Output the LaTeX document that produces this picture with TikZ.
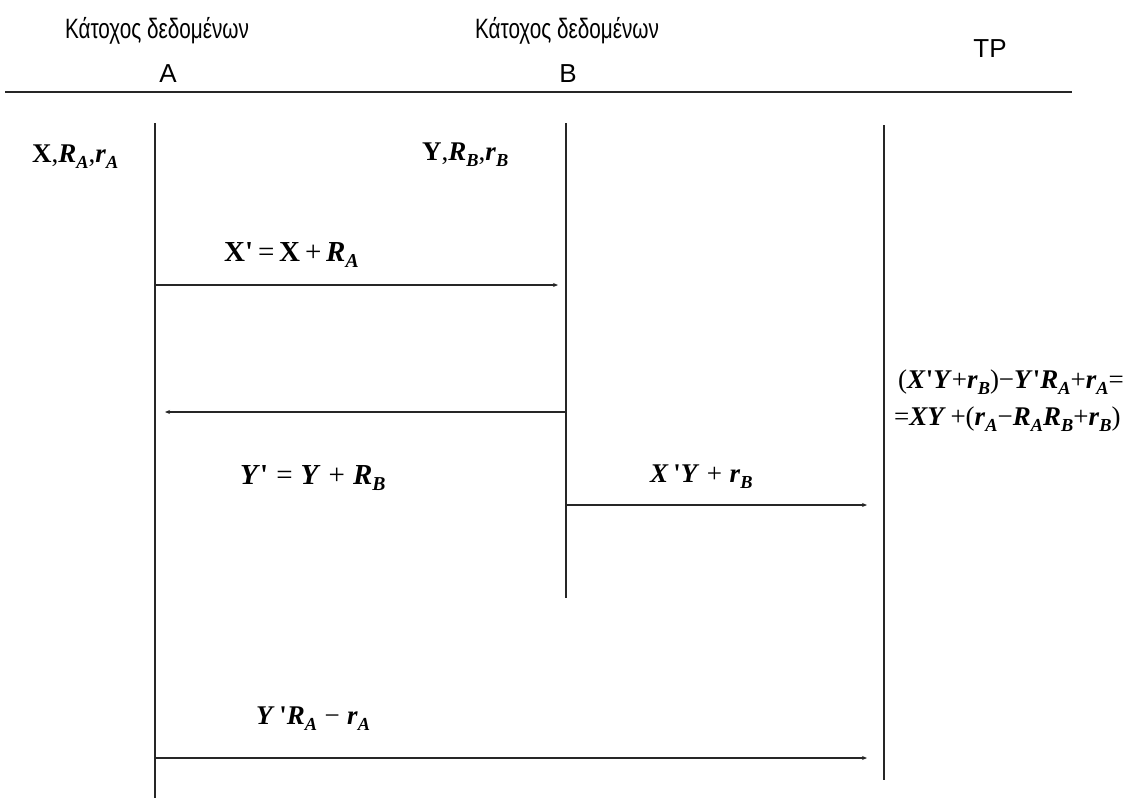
\documentclass[tikz,border=0pt]{standalone}
\usepackage{fontspec}
\usepackage{graphicx}
\setmainfont{Liberation Serif}
\newfontfamily\hdrfont[FakeStretch=0.74]{Liberation Sans}
\newfontfamily\hdrplain{Liberation Sans}
\newfontfamily\frmfont{Liberation Serif}
\usetikzlibrary{arrows.meta}
\newcommand{\bi}[1]{\textbf{\textit{#1}}}
\newcommand{\bu}[1]{\textbf{#1}}
\newcommand{\sbs}[1]{\raisebox{-0.5ex}{\scalebox{0.68}{\bi{#1}}}}
\newcommand{\mns}{\;\textminus\;}
\tikzset{
  hdr/.style={font=\hdrfont\fontsize{28}{30}\selectfont, inner sep=0pt, anchor=base},
  hdrl/.style={font=\hdrplain\fontsize{26}{28}\selectfont, inner sep=0pt, anchor=base},
  lbl/.style={font=\frmfont\fontsize{27}{29}\selectfont, inner sep=0pt, anchor=base west},
  lblb/.style={lbl, font=\frmfont\fontsize{29}{31}\selectfont},
  life/.style={line width=1.1pt, draw=black!85},
  msg/.style={line width=1.2pt, draw=black!85, -{Stealth[length=5pt,width=4pt]}},
}
\begin{document}
\begin{tikzpicture}[x=1pt,y=-1pt]
\useasboundingbox (0,0) rectangle (1140,798);
% headers
\node[hdr] (hA1) at (157,38) {Κάτοχος δεδομένων};
\node[hdrl] (hA2) at (168,82) {A};
\node[hdr] (hB1) at (567,38) {Κάτοχος δεδομένων};
\node[hdrl] (hB2) at (568,82) {B};
\node[hdrl] (hTP) at (990,57) {TP};
\coordinate (ruleL) at (5,92);
\coordinate (ruleR) at (1072,92);
\draw[line width=1.3pt, draw=black!85] (ruleL) -- (ruleR);
% lifelines
\coordinate (At) at (155,123); \coordinate (Ab) at (155,798);
\coordinate (Bt) at (566,123); \coordinate (Bb) at (566,598);
\coordinate (Tt) at (884,125); \coordinate (Tb) at (884,780);
\draw[life] (At) -- (Ab);
\draw[life] (Bt) -- (Bb);
\draw[life] (Tt) -- (Tb);
% labels
\node[lbl] (lA) at (32,162) {\bu{X},\bi{R}\sbs{A},\bi{r}\sbs{A}};
\node[lbl] (lB) at (422,160) {\bu{Y},\bi{R}\sbs{B},\bi{r}\sbs{B}};
\node[lblb] (m1) at (224,261) {\bu{X}\bu{'}\,=\,\bu{X}\,+\,\bi{R}\sbs{A}};
\node[lblb] (m2) at (240,484) {\bi{Y}\bu{'}\;=\;\bi{Y}\;+\;\bi{R}\sbs{B}};
\node[lbl] (m3) at (650,482) {\bi{X}\,\bu{'}\bi{Y}\;+\;\bi{r}\sbs{B}};
\node[lbl] (m4) at (256,724) {\bi{Y}\,\bu{'}\bi{R}\sbs{A}\mns\bi{r}\sbs{A}};
\node[lbl] (f1) at (898,388) {(\bi{X}\bu{'}\bi{Y}+\bi{r}\sbs{B})\textminus\bi{Y}\bu{'}\bi{R}\sbs{A}+\bi{r}\sbs{A}=};
\node[lbl] (f2) at (894,425) {=\bi{XY}\,+(\bi{r}\sbs{A}\textminus\bi{R}\sbs{A}\bi{R}\sbs{B}+\bi{r}\sbs{B})};
% messages
\coordinate (a1s) at (155,285); \coordinate (a1e) at (558,285);
\coordinate (a2s) at (566,412); \coordinate (a2e) at (165,412);
\coordinate (a3s) at (566,505); \coordinate (a3e) at (867,505);
\coordinate (a4s) at (155,758); \coordinate (a4e) at (867,758);
\draw[msg] (a1s) -- (a1e);
\draw[msg] (a2s) -- (a2e);
\draw[msg] (a3s) -- (a3e);
\draw[msg] (a4s) -- (a4e);
\end{tikzpicture}
\end{document}
